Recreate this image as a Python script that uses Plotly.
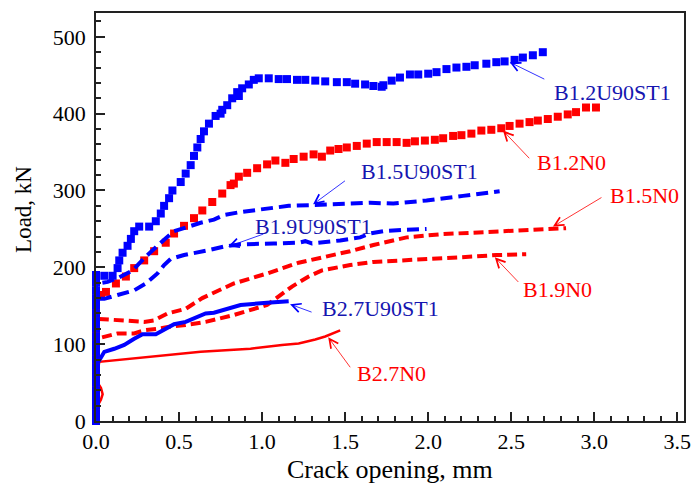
import plotly.graph_objects as go

# ---------------- data (crack opening mm, load kN) ----------------
b12u_x = [0]*20 + [0.05, 0.10, 0.13, 0.14, 0.16, 0.19, 0.21, 0.23, 0.26, 0.32, 0.36, 0.39, 0.41, 0.44, 0.46,
                   0.51, 0.54, 0.57, 0.59, 0.61, 0.63, 0.65, 0.68, 0.72, 0.75, 0.76, 0.79, 0.82, 0.85, 0.86,
                   0.88, 0.92, 0.95, 0.98, 1.04, 1.10, 1.15, 1.21, 1.26, 1.32, 1.38, 1.45, 1.51, 1.56, 1.62,
                   1.67, 1.72, 1.73, 1.78, 1.83, 1.89, 1.94, 2.00, 2.05, 2.11, 2.17, 2.23, 2.28, 2.35, 2.41,
                   2.46, 2.52, 2.57, 2.63, 2.69]
b12u_y = [0, 10, 20, 30, 40, 50, 60, 70, 80, 90, 100, 110, 120, 130, 140, 150, 160, 170, 180, 190] + \
         [189, 189, 199, 209, 219, 228, 237, 247, 253, 253, 260, 270, 280, 290, 300,
          311, 322, 333, 345, 356, 367, 377, 387, 397, 400, 405, 411, 420, 428, 423,
          433, 438, 444, 446, 446, 445, 445, 444, 444, 443, 442, 441, 441, 439, 438,
          436, 435, 437, 443, 447, 451, 451, 452, 454, 458, 460, 461, 463, 465, 467,
          468, 470, 473, 476, 480]

b12n_x = [0]*17 + [0.03, 0.06, 0.12, 0.18, 0.23, 0.29, 0.35, 0.42, 0.47, 0.53, 0.59, 0.64, 0.70, 0.76, 0.81,
                   0.83, 0.86, 0.91, 0.97, 1.03, 1.08, 1.14, 1.19, 1.25, 1.31, 1.36, 1.41, 1.46, 1.51, 1.57,
                   1.63, 1.69, 1.75, 1.81, 1.87, 1.92, 1.98, 2.04, 2.09, 2.15, 2.20, 2.26, 2.32, 2.38, 2.44,
                   2.49, 2.55, 2.61, 2.66, 2.72, 2.78, 2.84, 2.89, 2.95, 3.01]
b12n_y = [0, 10, 20, 30, 40, 50, 60, 70, 80, 90, 100, 110, 120, 130, 140, 150, 158] + \
         [164, 168, 179, 188, 199, 209, 221, 232, 244, 254, 264, 274, 285, 296, 307,
          309, 318, 323, 329, 334, 339, 336, 341, 344, 347, 344, 352, 354, 356, 358,
          361, 363, 363, 363, 362, 364, 365, 366, 368, 371, 372, 374, 378, 379, 381,
          384, 387, 389, 391, 393, 396, 399, 402, 408, 408]

b15u_x = [0, 0, 0.01, 0.07, 0.14, 0.22, 0.30, 0.36, 0.41, 0.47, 0.55, 0.63, 0.71, 0.77, 0.87, 0.97,
          1.03, 1.16, 1.30, 1.47, 1.65, 1.79, 1.99, 2.21, 2.43]
b15u_y = [0, 179, 179, 181, 187, 196, 214, 227, 236, 247, 253, 258, 262, 268, 272, 275,
          277, 280, 281, 282, 284, 283, 287, 293, 299]

b19u_x = [0, 0, 0.01, 0.05, 0.13, 0.23, 0.30, 0.37, 0.41, 0.45, 0.53, 0.61, 0.67, 0.77, 0.87, 1.07,
          1.22, 1.26, 1.30, 1.47, 1.59, 1.65, 1.73, 1.87, 1.99]
b19u_y = [0, 159, 159, 159, 164, 170, 179, 192, 203, 211, 216, 219, 222, 227, 230, 231,
          232, 234, 231, 235, 239, 244, 247, 249, 250]

b27u_x = [0, 0, 0.02, 0.05, 0.11, 0.17, 0.23, 0.28, 0.36, 0.41, 0.47, 0.54, 0.66, 0.71, 0.87, 1.03,
          1.12, 1.16]
b27u_y = [0, 79, 79, 90, 94, 99, 107, 113, 113, 119, 126, 129, 140, 141, 151, 154,
          155, 156]

b15n_x = [0, 0, 0.01, 0.13, 0.29, 0.35, 0.43, 0.54, 0.64, 0.83, 1.03, 1.22, 1.43, 1.53, 1.67, 1.87,
          2.07, 2.27, 2.47, 2.67, 2.80, 2.83]
b15n_y = [0, 133, 133, 131, 129, 131, 140, 146, 160, 179, 192, 206, 216, 221, 229, 239,
          243, 245, 247, 249, 250, 251]

b19n_x = [0, 0, 0.02, 0.13, 0.23, 0.29, 0.37, 0.45, 0.54, 0.66, 0.83, 1.03, 1.18, 1.28, 1.36, 1.53,
          1.67, 1.87, 2.07, 2.27, 2.41, 2.56, 2.59]
b19n_y = [0, 109, 108, 114, 114, 118, 120, 123, 125, 129, 138, 151, 175, 188, 196, 203,
          207, 209, 211, 214, 216, 216, 217]

b27n_x = [0, 0.01, 0.03, 0.04, 0.03, 0.01, 0.01, 0.02, 0.63, 0.93, 1.12, 1.22, 1.32, 1.38, 1.47]
b27n_y = [0, 20, 28, 35, 43, 50, 65, 77, 90, 94, 99, 101, 106, 110, 118]

x_ticks = [0.0, 0.5, 1.0, 1.5, 2.0, 2.5, 3.0, 3.5]
y_ticks = [0, 100, 200, 300, 400, 500]

# ---------------- styling ----------------
BLUE = "#0000FF"
RED = "#FF0000"
BLUE_TXT = "#1515B0"
FONT = "Liberation Serif"

fig = go.Figure()


def line_trace(x, y, color, dash, width):
    return go.Scatter(x=x, y=y, mode="lines", line=dict(color=color, width=width, dash=dash),
                      showlegend=False, cliponaxis=False)


def sq_trace(x, y, color):
    return go.Scatter(x=x, y=y, mode="markers",
                      marker=dict(symbol="square", size=8, color=color, line=dict(width=0)),
                      showlegend=False, cliponaxis=False)


fig.add_trace(line_trace(b27n_x, b27n_y, RED, "solid", 2.5))
fig.add_trace(line_trace(b19n_x, b19n_y, RED, "10px,5px", 4))
fig.add_trace(line_trace(b15n_x, b15n_y, RED, "10px,5px", 4))
fig.add_trace(sq_trace(b12n_x, b12n_y, RED))
fig.add_trace(line_trace(b27u_x, b27u_y, BLUE, "solid", 4))
fig.add_trace(line_trace(b19u_x, b19u_y, BLUE, "12px,6px", 4))
fig.add_trace(line_trace(b15u_x, b15u_y, BLUE, "12px,6px", 4))
fig.add_trace(sq_trace(b12u_x, b12u_y, BLUE))

# labels: (text, colour, arrow head x,y, arrow tail x,y, label left x, label centre y)
labels = [
    ("B1.2U90ST1", BLUE_TXT, BLUE, 2.491, 467, 2.708, 444, 2.743, 427),
    ("B1.2N0", RED, RED, 2.450, 378, 2.617, 340, 2.641, 337),
    ("B1.5U90ST1", BLUE_TXT, BLUE, 1.307, 282, 1.508, 314, 1.584, 325),
    ("B1.9U90ST1", BLUE_TXT, BLUE, 0.796, 227, 1.017, 244, 0.946, 253),
    ("B1.5N0", RED, RED, 2.751, 253, 3.052, 292, 3.082, 294),
    ("B1.9N0", RED, RED, 2.401, 213, 2.551, 179, 2.561, 171),
    ("B2.7U90ST1", BLUE_TXT, BLUE, 1.168, 152, 1.307, 141, 1.347, 146),
    ("B2.7N0", RED, RED, 1.398, 109, 1.537, 68, 1.559, 62),
]
for txt, tcol, acol, hx, hy, tx, ty, lx, ly in labels:
    fig.add_annotation(x=hx, y=hy, ax=tx, ay=ty, axref="x", ayref="y", xref="x", yref="y",
                       text="", showarrow=True, arrowhead=5, arrowsize=2.2, arrowwidth=0.8,
                       arrowcolor=acol, standoff=0, startstandoff=0)
    fig.add_annotation(x=lx, y=ly, xref="x", yref="y", text=txt, showarrow=False,
                       xanchor="left", yanchor="middle",
                       font=dict(family=FONT, size=22, color=tcol))

axis_common = dict(showgrid=False, zeroline=False, showline=True, linecolor="#222222", linewidth=1.5,
                   mirror=True, ticks="inside", tickcolor="#222222", tickwidth=1.5, ticklen=9,
                   automargin=False, ticklabeloverflow="allow",
                   tickfont=dict(family=FONT, size=22, color="black"))

fig.update_xaxes(range=[0, 3.54], tickvals=x_ticks, ticktext=[f"{v:.1f}" for v in x_ticks],
                 minor=dict(dtick=0.1, tick0=0, ticks="inside", ticklen=5, tickcolor="#222222", tickwidth=1.5),
                 **axis_common)
fig.update_yaxes(range=[0, 531], tickvals=y_ticks, ticktext=[str(v) for v in y_ticks],
                 ticklabelstandoff=4,
                 minor=dict(dtick=20, tick0=0, ticks="inside", ticklen=5, tickcolor="#222222", tickwidth=1.5),
                 **axis_common)

# axis titles placed as paper-anchored annotations to match the reference
fig.add_annotation(x=0.5, y=-0.119, xref="paper", yref="paper", text="Crack opening, mm", showarrow=False,
                   xanchor="center", yanchor="middle", font=dict(family=FONT, size=26, color="black"))
fig.add_annotation(x=-0.123, y=0.519, xref="paper", yref="paper", text="Load, kN", showarrow=False,
                   textangle=-90, xanchor="center", yanchor="middle",
                   font=dict(family=FONT, size=23, color="black"))

fig.update_layout(width=692, height=488, margin=dict(l=96, r=8, t=13, b=67),
                  paper_bgcolor="white", plot_bgcolor="white", showlegend=False,
                  font=dict(family=FONT))

fig.write_html("out.html", config={"displayModeBar": False},
               post_script="document.body.style.margin='0';document.body.style.padding='0';")
